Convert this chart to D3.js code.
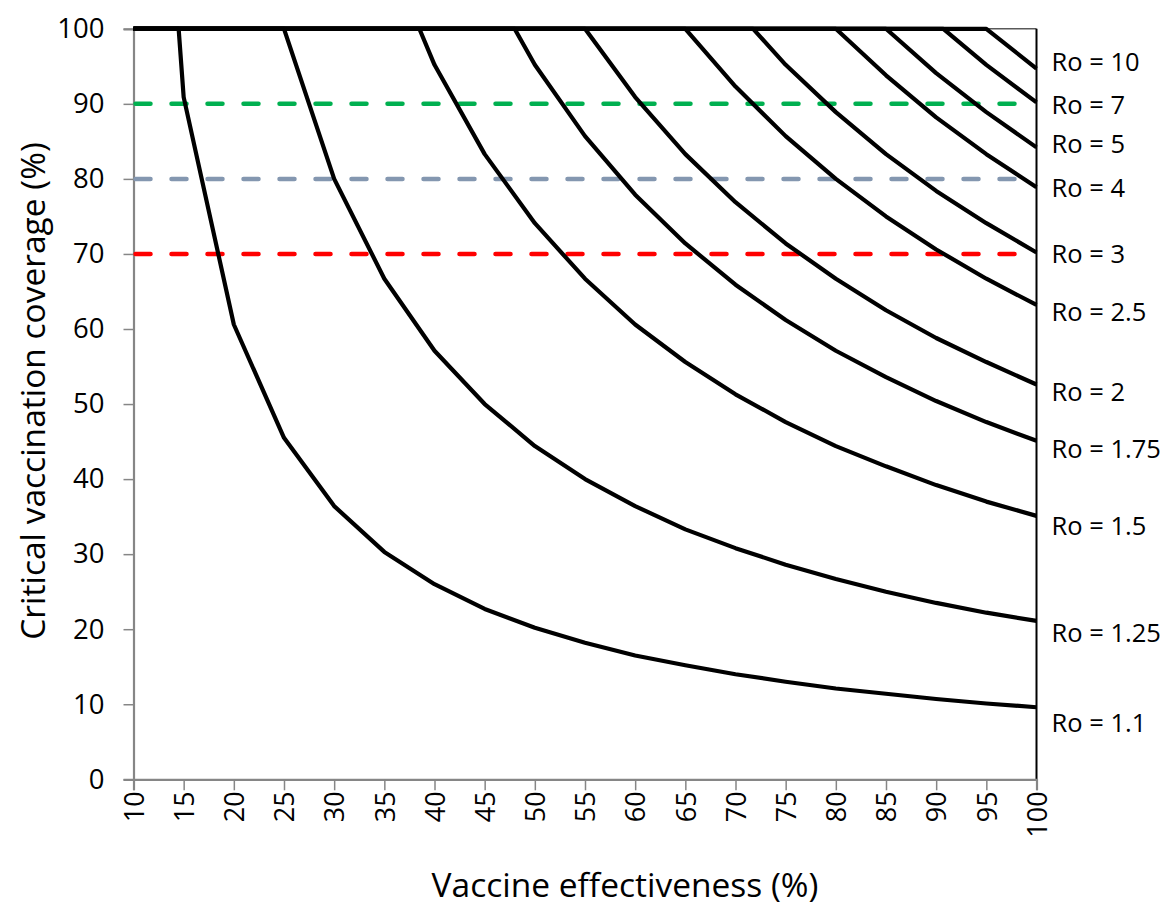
<!DOCTYPE html>
<html>
<head>
<meta charset="utf-8">
<script src="https://cdn.jsdelivr.net/npm/d3@7/dist/d3.min.js"></script>
<style>
  html, body { margin: 0; padding: 0; background: #fff; }
  svg text { font-family: "Open Sans", "Noto Sans", sans-serif; fill: #000; }
</style>
</head>
<body>
<svg id="chart" width="1162" height="909"></svg>
<script>
// ---- data ----
const effectiveness = [10,15,20,25,30,35,40,45,50,55,60,65,70,75,80,85,90,95,100];
const yTicks = [0,10,20,30,40,50,60,70,80,90,100];
const roNames = ["Ro = 1.1","Ro = 1.25","Ro = 1.5","Ro = 1.75","Ro = 2","Ro = 2.5","Ro = 3","Ro = 4","Ro = 5","Ro = 7","Ro = 10"];
const ro1_1  = [181.8,90.9,60.6,45.5,36.4,30.3,26.0,22.7,20.2,18.2,16.5,15.2,14.0,13.0,12.1,11.4,10.7,10.1,9.6];
const ro1_25 = [400,200,133.3,100,80,66.7,57.1,50,44.4,40,36.4,33.3,30.8,28.6,26.7,25,23.5,22.2,21.1];
const ro1_5  = [666.7,333.3,222.2,166.7,133.3,111.1,95.2,83.3,74.1,66.7,60.6,55.6,51.3,47.6,44.4,41.7,39.2,37.0,35.1];
const ro1_75 = [857.1,428.6,285.7,214.3,171.4,142.9,122.4,107.1,95.2,85.7,77.9,71.4,65.9,61.2,57.1,53.6,50.4,47.6,45.1];
const ro2    = [1000,500,333.3,250,200,166.7,142.9,125,111.1,100,90.9,83.3,76.9,71.4,66.7,62.5,58.8,55.6,52.6];
const ro2_5  = [1200,600,400,300,240,200,171.4,150,133.3,120,109.1,100,92.3,85.7,80,75,70.6,66.7,63.2];
const ro3    = [1333.3,666.7,444.4,333.3,266.7,222.2,190.5,166.7,148.1,133.3,121.2,111.1,102.6,95.2,88.9,83.3,78.4,74.1,70.2];
const ro4    = [1500,750,500,375,300,250,214.3,187.5,166.7,150,136.4,125,115.4,107.1,100,93.8,88.2,83.3,78.9];
const ro5    = [1600,800,533.3,400,320,266.7,228.6,200,177.8,160,145.5,133.3,123.1,114.3,106.7,100,94.1,88.9,84.2];
const ro7    = [1714.3,857.1,571.4,428.6,342.9,285.7,244.9,214.3,190.5,171.4,155.8,142.9,131.9,122.4,114.3,107.1,100.8,95.2,90.2];
const ro10   = [1800,900,600,450,360,300,257.1,225,200,180,163.6,150,138.5,128.6,120,112.5,105.9,100,94.7];
const roSeries = [ro1_1,ro1_25,ro1_5,ro1_75,ro2,ro2_5,ro3,ro4,ro5,ro7,ro10];
const roLabelAt = [7.5,19.5,33.7,44.0,51.6,62.2,70.0,78.8,84.6,89.9,95.5];
const thresholds = [90,80,70];
const thresholdColors = ["#00B050","#8497B0","#FF0000"];

// ---- layout ----
const svg = d3.select("#chart");
const plotL = 133.5, plotR = 1036.5, plotT = 28.8, plotB = 779.3;
const yMax = 100;

const x = d3.scalePoint().domain(effectiveness).range([plotL, plotR]).padding(0);
const y = d3.scaleLinear().domain([0, yMax]).range([plotB, plotT]);

// thin top border + right border
svg.append("line").attr("x1", plotL).attr("x2", plotR).attr("y1", plotT).attr("y2", plotT)
  .attr("stroke", "#595959").attr("stroke-width", 1.5);
svg.append("line").attr("x1", plotR).attr("x2", plotR).attr("y1", plotT).attr("y2", plotB)
  .attr("stroke", "#000").attr("stroke-width", 2);

// axes
const yAxis = svg.append("g").attr("transform", `translate(${plotL},0)`)
  .call(d3.axisLeft(y).tickValues(yTicks).tickSize(10).tickPadding(19).tickFormat(d3.format("d")));
const xAxis = svg.append("g").attr("transform", `translate(0,${plotB})`)
  .call(d3.axisBottom(x).tickSize(11).tickFormat(d3.format("d")));
[yAxis, xAxis].forEach(g => {
  g.select(".domain").attr("stroke", "#868686").attr("stroke-width", 2.2);
  g.selectAll(".tick line").attr("stroke", "#868686").attr("stroke-width", 1.5);
  g.selectAll("text").attr("font-family", "'Open Sans', sans-serif").attr("fill", "#000");
});
yAxis.selectAll("text").attr("font-size", 27.5);
xAxis.selectAll("text")
  .attr("font-size", 27)
  .attr("transform", "rotate(-90)")
  .attr("text-anchor", "end")
  .attr("x", -12)
  .attr("y", 0)
  .attr("dy", "0.36em");

// threshold dashed lines
svg.append("g").selectAll("line").data(thresholds).join("line")
  .attr("x1", x(effectiveness[0]) + 2).attr("x2", x(effectiveness[effectiveness.length - 1]) - 2)
  .attr("y1", d => y(d)).attr("y2", d => y(d))
  .attr("stroke", (d, i) => thresholdColors[i])
  .attr("stroke-width", 4.5)
  .attr("stroke-linecap", "round")
  .attr("stroke-dasharray", "15,21");

// clamp a polyline at the top of the value axis (points above the max run along the border)
function clampSeries(vals) {
  const pts = [];
  for (let i = 0; i < vals.length; i++) {
    const xv = x(effectiveness[i]);
    if (i > 0) {
      const v0 = vals[i - 1], v1 = vals[i];
      if ((v0 - yMax) * (v1 - yMax) < 0) {
        const t = (v0 - yMax) / (v0 - v1);
        const xp = x(effectiveness[i - 1]);
        pts.push([xp + t * (xv - xp), yMax]);
      }
    }
    pts.push([xv, Math.min(vals[i], yMax)]);
  }
  return pts;
}

const line = d3.line().x(d => d[0]).y(d => y(d[1]));
svg.append("g").selectAll("path").data(roSeries).join("path")
  .attr("d", d => line(clampSeries(d)))
  .attr("fill", "none")
  .attr("stroke", "#000")
  .attr("stroke-width", 4.2)
  .attr("stroke-linejoin", "round");

// series labels at the right
svg.append("g").selectAll("text").data(roNames).join("text")
  .attr("x", plotR + 15)
  .attr("y", (d, i) => y(roLabelAt[i]))
  .attr("dy", "0.35em")
  .attr("font-size", 25.5)
  .text(d => d);

// axis titles
svg.append("text")
  .attr("transform", `translate(33,391) rotate(-90)`)
  .attr("text-anchor", "middle")
  .attr("dy", "0.35em")
  .attr("font-size", 33.5)
  .text("Critical vaccination coverage (%)");
svg.append("text")
  .attr("x", 625).attr("y", 897)
  .attr("text-anchor", "middle")
  .attr("font-size", 33.5)
  .text("Vaccine effectiveness (%)");
</script>
</body>
</html>
